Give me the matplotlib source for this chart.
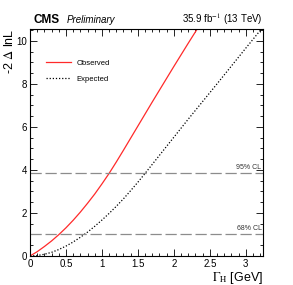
import numpy as np
import matplotlib.pyplot as plt
from matplotlib.ticker import MultipleLocator

plt.rcParams['font.family'] = ['Liberation Sans', 'DejaVu Sans']
plt.rcParams['mathtext.fontset'] = 'stix'

# likelihood scan readings
gamma_obs = [0.0, 0.1, 0.2, 0.3, 0.4, 0.5, 0.6, 0.7, 0.8, 0.9, 1.0, 1.1, 1.2,
             1.3, 1.4, 1.5, 1.6, 1.7, 1.8, 1.9, 2.0, 2.1, 2.2, 2.3, 2.4]
nll_obs = [0.0, 0.20, 0.44, 0.70, 0.99, 1.31, 1.66, 2.04, 2.45, 2.88, 3.35, 3.84, 4.37,
           4.92, 5.48, 6.04, 6.60, 7.16, 7.71, 8.26, 8.81, 9.35, 9.89, 10.42, 10.95]

gamma_exp = [0.0, 0.1, 0.2, 0.3, 0.4, 0.5, 0.6, 0.7, 0.8, 0.9, 1.0, 1.1, 1.2, 1.3,
             1.4, 1.5, 1.6, 1.7, 1.8, 1.9, 2.0, 2.2, 2.4, 2.6, 2.8, 3.0, 3.2, 3.3]
nll_exp = [0.0, 0.02, 0.08, 0.17, 0.30, 0.46, 0.65, 0.87, 1.11, 1.38, 1.67, 1.98, 2.31, 2.66,
           3.04, 3.43, 3.84, 4.26, 4.68, 5.10, 5.52, 6.36, 7.18, 8.00, 8.83, 9.66, 10.48, 10.90]

cl_values = [1.0, 3.84]
cl_labels = ['68% CL', '95% CL']

fig = plt.figure(figsize=(2.93, 2.85), dpi=100)
ax = fig.add_axes([0.1024, 0.1018, 0.7952, 0.7962])

ax.plot(gamma_obs, nll_obs, color='#ff2a2a', lw=0.9, label='Observed')
ax.plot(gamma_exp, nll_exp, color='black', lw=0.9, ls=(0, (1, 1.5)), label='Expected')

for v, lab in zip(cl_values, cl_labels):
    ax.axhline(v, color='#8c8c8c', lw=0.9, ls=(0, (9, 3)))
    ax.text(3.22, v + 0.12, lab, ha='right', va='bottom', fontsize=5, color='#333333')

ax.set_xlim(0, 3.24)
ax.set_ylim(0, 10.55)

ax.xaxis.set_major_locator(MultipleLocator(0.5))
ax.xaxis.set_minor_locator(MultipleLocator(0.1))
ax.yaxis.set_major_locator(MultipleLocator(2))
ax.yaxis.set_minor_locator(MultipleLocator(0.5))
ax.set_xticks([0, 0.5, 1, 1.5, 2, 2.5, 3])
ax.set_xticklabels(['0', '0.5', '1', '1.5', '2', '2.5', '3'])
ax.tick_params(which='both', direction='in', top=True, right=True, labelsize=7, width=0.6)
ax.tick_params(which='major', length=5, pad=2)
ax.tick_params(which='minor', length=2.5)
for s in ax.spines.values():
    s.set_linewidth(0.8)

ax.set_ylabel(r'-2 $\Delta$ lnL', fontsize=9, loc='top')
ax.yaxis.set_label_coords(-0.06, 1.0)
ax.set_xlabel(r'$\Gamma_{\rm H}$ [GeV]', fontsize=9, loc='right', labelpad=1)

ax.legend(loc='upper left', bbox_to_anchor=(0.04, 0.895), frameon=False, fontsize=5.5,
          handlelength=3.2, labelspacing=1.1)

fig.text(0.116, 0.919, 'CMS', fontsize=8.5, fontweight='bold', va='baseline')
fig.text(0.226, 0.919, 'Preliminary', fontsize=7, style='italic', va='baseline')
fig.text(0.897, 0.919, r'35.9 fb$^{-1}$ (13 TeV)', fontsize=7, ha='right', va='baseline')

fig.savefig('out.png', dpi=100)
